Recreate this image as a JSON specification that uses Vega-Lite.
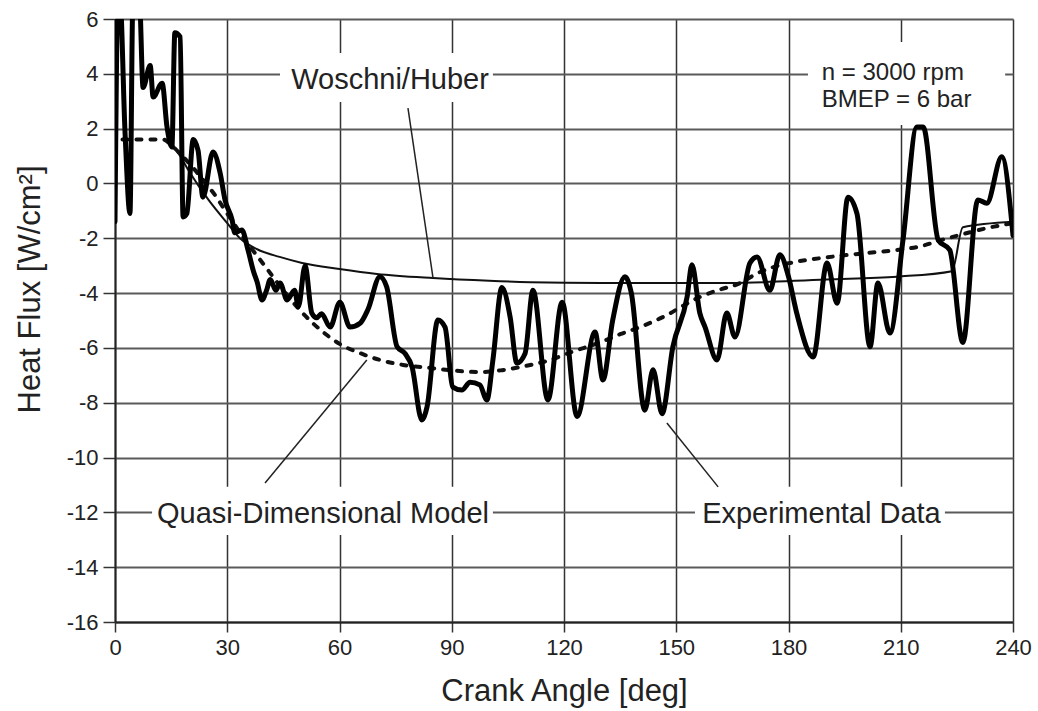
{
  "$schema": "https://vega.github.io/schema/vega-lite/v6.json",
  "width": 898,
  "height": 603,
  "autosize": {"type": "none"},
  "padding": {"left": 115, "top": 19, "right": 25, "bottom": 89},
  "background": "white",
  "config": {
    "view": {"stroke": null},
    "font": "Liberation Sans",
    "text": {"font": "Liberation Sans"}
  },
  "datasets": {
    "boxes": [
      {"x": 44.1, "x2": 101, "y": 4.76, "y2": 2.97},
      {"x": 9.9, "x2": 101, "y": -11.07, "y2": -12.83},
      {"x": 155, "x2": 221.8, "y": -11.07, "y2": -12.83},
      {"x": 185.2, "x2": 237.9, "y": 5.16, "y2": 2.13}
    ],
    "woschni": [
      {"x": 15, "y": 1.5}, {"x": 17.4, "y": 1.0},
      {"x": 20, "y": 0.4}, {"x": 25, "y": -0.6}, {"x": 30, "y": -1.45}, {"x": 33.4, "y": -2.0},
      {"x": 38, "y": -2.4}, {"x": 44, "y": -2.68}, {"x": 50, "y": -2.9}, {"x": 60, "y": -3.12},
      {"x": 70, "y": -3.3}, {"x": 85, "y": -3.45}, {"x": 100, "y": -3.55}, {"x": 111, "y": -3.6},
      {"x": 130, "y": -3.63}, {"x": 164, "y": -3.63}, {"x": 190, "y": -3.5}, {"x": 209, "y": -3.4},
      {"x": 223.7, "y": -3.2}, {"x": 226.6, "y": -1.6}, {"x": 240, "y": -1.4}
    ],
    "model": [
      {"x": 2, "y": 1.6}, {"x": 13, "y": 1.6}, {"x": 15, "y": 1.4}, {"x": 18, "y": 1.0},
      {"x": 21, "y": 0.55}, {"x": 24, "y": 0.05}, {"x": 26.7, "y": -0.42}, {"x": 30, "y": -1.1},
      {"x": 35, "y": -2.1}, {"x": 40, "y": -3.0}, {"x": 45, "y": -3.9}, {"x": 49.4, "y": -4.62},
      {"x": 55.6, "y": -5.42}, {"x": 60, "y": -5.85}, {"x": 65.5, "y": -6.19}, {"x": 70.8, "y": -6.44},
      {"x": 77, "y": -6.62}, {"x": 84.2, "y": -6.73}, {"x": 90, "y": -6.82}, {"x": 97.5, "y": -6.88},
      {"x": 103, "y": -6.82}, {"x": 108.2, "y": -6.7}, {"x": 116.3, "y": -6.44}, {"x": 122, "y": -6.15},
      {"x": 129.6, "y": -5.8}, {"x": 135, "y": -5.5}, {"x": 140.3, "y": -5.24}, {"x": 147.5, "y": -4.8},
      {"x": 152, "y": -4.45}, {"x": 156.3, "y": -4.14}, {"x": 161, "y": -3.9}, {"x": 167, "y": -3.64},
      {"x": 171.8, "y": -3.27}, {"x": 176, "y": -3.05}, {"x": 180.4, "y": -2.9}, {"x": 190, "y": -2.7},
      {"x": 200, "y": -2.55}, {"x": 209, "y": -2.43}, {"x": 215, "y": -2.3}, {"x": 221, "y": -2.06},
      {"x": 228, "y": -1.8}, {"x": 234, "y": -1.6}, {"x": 240, "y": -1.45}
    ],
    "experimental": [
      {"x": 0, "y": -1.4}, {"x": 0.8, "y": 6.8}, {"x": 1.3, "y": 6.8}, {"x": 2.7, "y": 1.8},
      {"x": 4.0, "y": -1.1}, {"x": 4.8, "y": 6.8}, {"x": 6.5, "y": 6.8}, {"x": 7.5, "y": 3.5},
      {"x": 9.4, "y": 4.3}, {"x": 10.2, "y": 3.15}, {"x": 12.6, "y": 3.66}, {"x": 13.9, "y": 2.06},
      {"x": 15.2, "y": 1.33}, {"x": 16.0, "y": 5.5}, {"x": 17.4, "y": 5.35}, {"x": 18.2, "y": -1.22},
      {"x": 19.2, "y": -1.1}, {"x": 20.9, "y": 1.6}, {"x": 22.2, "y": 1.2}, {"x": 23.5, "y": -0.5},
      {"x": 26.2, "y": 1.15}, {"x": 28.1, "y": 0.38}, {"x": 29.4, "y": -0.6}, {"x": 31.3, "y": -1.33},
      {"x": 32.0, "y": -1.8}, {"x": 33.9, "y": -1.7}, {"x": 35.5, "y": -2.4}, {"x": 37, "y": -3.2},
      {"x": 38, "y": -3.6}, {"x": 39.3, "y": -4.25}, {"x": 40.5, "y": -3.9}, {"x": 41.5, "y": -3.5},
      {"x": 43, "y": -3.9}, {"x": 44.1, "y": -3.63}, {"x": 46, "y": -4.25}, {"x": 48, "y": -3.9},
      {"x": 49, "y": -4.5}, {"x": 50.8, "y": -3.0}, {"x": 52.6, "y": -4.73}, {"x": 53.9, "y": -4.9},
      {"x": 55.2, "y": -4.75}, {"x": 57.5, "y": -5.24}, {"x": 60.1, "y": -4.33}, {"x": 62.8, "y": -5.24},
      {"x": 65.5, "y": -5.1}, {"x": 67.6, "y": -4.6}, {"x": 70.8, "y": -3.4}, {"x": 72.6, "y": -3.77},
      {"x": 75.4, "y": -5.96}, {"x": 77.5, "y": -6.2}, {"x": 79.4, "y": -6.7}, {"x": 82.0, "y": -8.63},
      {"x": 83.4, "y": -8.15}, {"x": 86.3, "y": -4.98}, {"x": 88.2, "y": -5.24}, {"x": 90.3, "y": -7.43},
      {"x": 92.7, "y": -7.54}, {"x": 94.9, "y": -7.25}, {"x": 97.5, "y": -7.35}, {"x": 99.4, "y": -7.9},
      {"x": 101, "y": -6.44}, {"x": 103.4, "y": -3.8}, {"x": 105.6, "y": -4.87}, {"x": 107.4, "y": -6.55},
      {"x": 109.6, "y": -6.2}, {"x": 111.7, "y": -3.9}, {"x": 115.7, "y": -7.9}, {"x": 119.5, "y": -4.33},
      {"x": 123.5, "y": -8.5}, {"x": 128.3, "y": -5.42}, {"x": 130.4, "y": -7.17}, {"x": 133, "y": -5.0},
      {"x": 136.3, "y": -3.4}, {"x": 138, "y": -4.0}, {"x": 141.6, "y": -8.27}, {"x": 143.8, "y": -6.8},
      {"x": 146.2, "y": -8.4}, {"x": 149.1, "y": -5.96}, {"x": 152.9, "y": -4.14}, {"x": 154.2, "y": -2.97},
      {"x": 156.3, "y": -4.73}, {"x": 157.7, "y": -5.24}, {"x": 160.9, "y": -6.44}, {"x": 163.5, "y": -4.73},
      {"x": 165.7, "y": -5.6}, {"x": 169.7, "y": -2.9}, {"x": 171.6, "y": -2.68}, {"x": 175, "y": -3.9},
      {"x": 177.7, "y": -2.6}, {"x": 180, "y": -3.4}, {"x": 182.2, "y": -4.73}, {"x": 186.6, "y": -6.33},
      {"x": 190.3, "y": -2.9}, {"x": 193, "y": -4.37}, {"x": 195.9, "y": -0.5}, {"x": 198.3, "y": -1.1},
      {"x": 201.8, "y": -5.96}, {"x": 203.9, "y": -3.63}, {"x": 207.1, "y": -5.46}, {"x": 210.6, "y": -2.06},
      {"x": 214.3, "y": 2.06}, {"x": 216, "y": 2.06}, {"x": 220, "y": -2.06}, {"x": 223.1, "y": -2.43},
      {"x": 226.6, "y": -5.8}, {"x": 230.6, "y": -0.6}, {"x": 233, "y": -0.72}, {"x": 237, "y": 0.97},
      {"x": 240, "y": -1.9}
    ],
    "leaders": [
      {"x": 78.3, "y": 2.75, "x2": 85, "y2": -3.45},
      {"x": 40.1, "y": -10.93, "x2": 67.3, "y2": -6.44},
      {"x": 161.2, "y": -11.07, "x2": 147.5, "y2": -8.74}
    ],
    "labels": [
      {"x": 73.5, "y": 3.45, "label": "Woschni/Huber"},
      {"x": 55.6, "y": -12.39, "label": "Quasi-Dimensional Model"},
      {"x": 188.8, "y": -12.39, "label": "Experimental Data"}
    ],
    "info": [
      {"x": 188.9, "y": 3.775, "label": "n = 3000 rpm"},
      {"x": 188.9, "y": 2.79, "label": "BMEP = 6 bar"}
    ]
  },
  "encoding": {
    "x": {
      "field": "x", "type": "quantitative",
      "scale": {"domain": [0, 240], "nice": false, "zero": false},
      "axis": {
        "values": [0, 30, 60, 90, 120, 150, 180, 210, 240],
        "title": "Crank Angle [deg]",
        "titleFont": "Liberation Sans", "titleFontSize": 31, "titleFontWeight": "normal", "titleColor": "#222",
        "titleY": 78, "titleBaseline": "alphabetic",
        "labelFont": "Liberation Sans", "labelFontSize": 22, "labelColor": "#222", "labelPadding": 5,
        "labelFlush": false, "labelOverlap": false, "labelBound": false,
        "tickSize": 10, "tickColor": "#333", "tickWidth": 1.5,
        "domainColor": "#222", "domainWidth": 2,
        "grid": true, "gridColor": "#333", "gridWidth": 1.5
      }
    },
    "y": {
      "field": "y", "type": "quantitative",
      "scale": {"domain": [-16, 6], "nice": false, "zero": false},
      "axis": {
        "values": [-16, -14, -12, -10, -8, -6, -4, -2, 0, 2, 4, 6],
        "labelExpr": "datum.value < 0 ? '-' + abs(datum.value) : '' + datum.value",
        "title": "Heat Flux [W/cm²]",
        "titleFont": "Liberation Sans", "titleFontSize": 31, "titleFontWeight": "normal", "titleColor": "#222",
        "titleX": -85, "titleY": 270, "titleAngle": -90, "titleAlign": "center", "titleBaseline": "middle",
        "labelFont": "Liberation Sans", "labelFontSize": 22, "labelColor": "#222", "labelPadding": 5,
        "labelFlush": false, "labelOverlap": false, "labelBound": false,
        "tickSize": 12, "tickColor": "#333", "tickWidth": 1.5,
        "domainColor": "#222", "domainWidth": 2,
        "grid": true, "gridColor": "#5a5a5a", "gridWidth": 2
      }
    }
  },
  "layer": [
    {
      "data": {"name": "boxes"},
      "mark": {"type": "rect", "fill": "white", "stroke": null},
      "encoding": {"x2": {"field": "x2"}, "y2": {"field": "y2"}}
    },
    {
      "data": {"name": "woschni"},
      "mark": {"type": "line", "color": "#111", "strokeWidth": 2, "interpolate": "monotone", "clip": true},
      "encoding": {}
    },
    {
      "data": {"name": "model"},
      "mark": {"type": "line", "color": "#111", "strokeWidth": 4, "strokeDash": [5, 9], "strokeCap": "round", "interpolate": "monotone", "clip": true},
      "encoding": {}
    },
    {
      "data": {"name": "experimental"},
      "mark": {"type": "line", "color": "#000", "strokeWidth": 5, "strokeJoin": "round", "strokeCap": "round", "interpolate": "monotone", "clip": true},
      "encoding": {}
    },
    {
      "data": {"name": "leaders"},
      "mark": {"type": "rule", "color": "#222", "strokeWidth": 1.5},
      "encoding": {"x2": {"field": "x2"}, "y2": {"field": "y2"}}
    },
    {
      "data": {"name": "labels"},
      "mark": {"type": "text", "font": "Liberation Sans", "fontSize": 29, "color": "#222", "align": "center", "baseline": "alphabetic"},
      "encoding": {"text": {"field": "label"}}
    },
    {
      "data": {"name": "info"},
      "mark": {"type": "text", "font": "Liberation Sans", "fontSize": 24, "color": "#222", "align": "left", "baseline": "alphabetic"},
      "encoding": {"text": {"field": "label"}}
    }
  ]
}
